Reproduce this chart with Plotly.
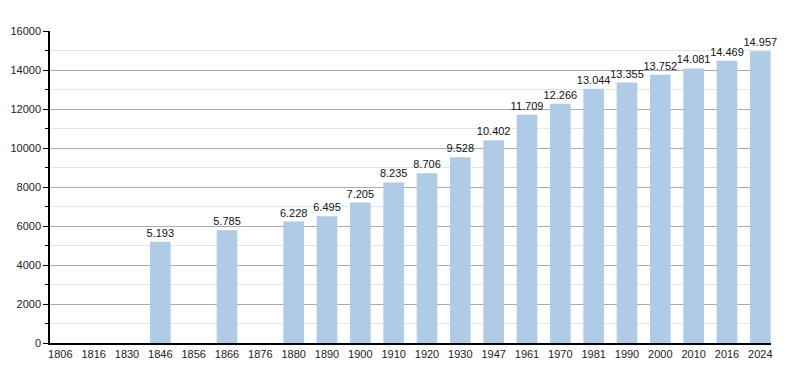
import plotly.graph_objects as go

years = ["1806", "1816", "1830", "1846", "1856", "1866", "1876", "1880", "1890", "1900",
         "1910", "1920", "1930", "1947", "1961", "1970", "1981", "1990", "2000", "2010",
         "2016", "2024"]
population = [None, None, None, 5193, None, 5785, None, 6228, 6495, 7205,
              8235, 8706, 9528, 10402, 11709, 12266, 13044, 13355, 13752, 14081,
              14469, 14957]
y_ticks = [0, 2000, 4000, 6000, 8000, 10000, 12000, 14000, 16000]

labels = ["" if v is None else f"{v:,}".replace(",", ".") for v in population]

fig = go.Figure(go.Bar(
    x=years, y=population, text=labels, textposition="outside",
    textfont=dict(family="Liberation Sans, Arial", size=11, color="#111"),
    marker=dict(color="#b0cbe6", line=dict(width=0)),
    cliponaxis=False,
))

fig.update_layout(
    width=792, height=365,
    margin=dict(l=42, r=29, t=23, b=30, autoexpand=False),
    plot_bgcolor="white", paper_bgcolor="white",
    bargap=0.38, showlegend=False,
    uniformtext=dict(minsize=11, mode="show"),
    font=dict(family="Liberation Sans, Arial", size=11, color="#222"),
)
fig.update_xaxes(
    type="category", range=[-0.31, 21.32],
    showline=True, linecolor="black", linewidth=1.5,
    ticks="", showgrid=False, tickfont=dict(size=11), automargin=False,
)
fig.update_yaxes(
    range=[0, 16000], tickvals=y_ticks, ticktext=[str(t) for t in y_ticks],
    showline=True, linecolor="black", linewidth=1.5,
    ticks="outside", ticklen=5, tickcolor="black",
    showgrid=True, gridcolor="#aaaaaa", gridwidth=1, zeroline=False,
    minor=dict(dtick=1000, showgrid=True, gridcolor="#e4e4e4", ticks="outside",
               ticklen=3, tickcolor="black"),
    tickfont=dict(size=11), automargin=False,
)
fig.write_html("out.html")
